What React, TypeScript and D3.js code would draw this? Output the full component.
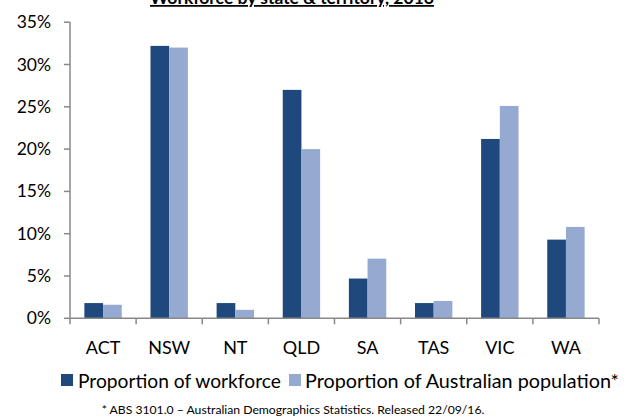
import React from "react";
import * as d3 from "d3";

const categories = ["ACT", "NSW", "NT", "QLD", "SA", "TAS", "VIC", "WA"];
const workforce = [1.8, 32.2, 1.8, 27.0, 4.7, 1.8, 21.2, 9.3];
const population = [1.6, 32.0, 1.0, 20.0, 7.05, 2.05, 25.1, 10.8];
const yTicks = [0, 5, 10, 15, 20, 25, 30, 35];
const seriesNames = ["Proportion of workforce", "Proportion of Australian population*"];
const title = "Workforce by state & territory, 2016";
const footnote = "* ABS 3101.0 \u2013 Australian Demographics Statistics. Released 22/09/16.";

const W = 628;
const H = 419;
const left = 70;
const right = 599;
const top = 22.2;
const bottom = 318.3;
const dark = "#1F497D";
const light = "#95A9D1";
const axisColor = "#888888";
const font = "Lato, 'Open Sans', sans-serif";

export default function App() {
  const x = d3.scaleBand<string>().domain(categories).range([left, right]);
  const y = d3.scaleLinear().domain([0, 35]).range([bottom, top]);
  const barW = 18.7;
  return (
    <svg width={W} height={H} style={{ position: "absolute", left: 0, top: 0, background: "#fff" }}>
      <text x={292} y={4} textAnchor="middle" fontFamily={font} fontWeight="bold" fontSize={17.5} textDecoration="underline" fill="#000">
        {title}
      </text>
      {categories.map((c, i) => {
        const cx = (x(c) as number) + x.bandwidth() / 2;
        return (
          <g key={c}>
            <rect x={cx - barW} y={y(workforce[i])} width={barW} height={bottom - y(workforce[i])} fill={dark} />
            <rect x={cx} y={y(population[i])} width={barW} height={bottom - y(population[i])} fill={light} />
            <text x={cx} y={354} textAnchor="middle" fontFamily={font} fontSize={18} fill="#000">{c}</text>
          </g>
        );
      })}
      <line x1={left} x2={left} y1={top} y2={bottom} stroke={axisColor} strokeWidth={1.5} />
      <line x1={left} x2={right} y1={bottom} y2={bottom} stroke={axisColor} strokeWidth={1.5} />
      {yTicks.map((t) => (
        <g key={t}>
          <line x1={left - 6} x2={left} y1={y(t)} y2={y(t)} stroke={axisColor} strokeWidth={1.5} />
          <text x={51} y={y(t) + 6} textAnchor="end" fontFamily={font} fontSize={17.5} fill="#000">{t}%</text>
        </g>
      ))}
      {categories.concat(["end"]).map((c, i) => {
        const xx = left + i * x.step();
        return <line key={"t" + i} x1={xx} x2={xx} y1={bottom} y2={bottom + 6} stroke={axisColor} strokeWidth={1.5} />;
      })}
      <rect x={61} y={374} width={12} height={12} fill={dark} />
      <text x={78} y={387.5} fontFamily={font} fontSize={19.2} fill="#000">{seriesNames[0]}</text>
      <rect x={289} y={374} width={12} height={12} fill={light} />
      <text x={305} y={387.5} fontFamily={font} fontSize={19.8} fill="#000">{seriesNames[1]}</text>
      <text x={293} y={414} textAnchor="middle" fontFamily={font} fontSize={12.2} fill="#000">{footnote}</text>
    </svg>
  );
}
